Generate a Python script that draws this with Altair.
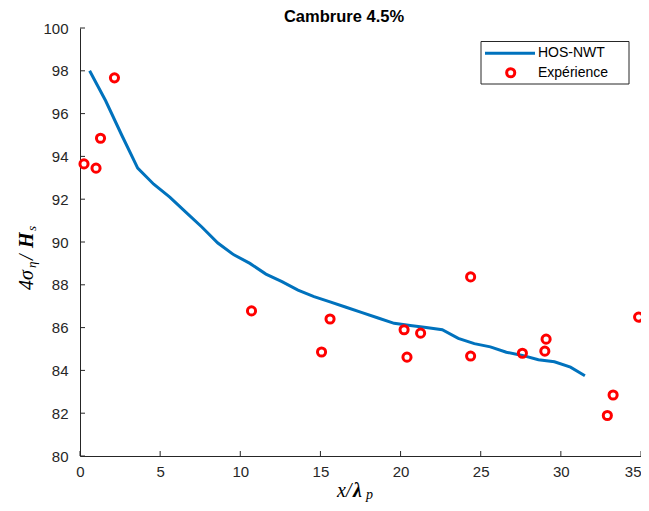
import altair as alt
import pandas as pd

# ---- data ----
hos_x = [0.6, 1.6, 2.6, 3.6, 4.6, 5.6, 6.6, 7.6, 8.6, 9.6, 10.6, 11.6, 12.6, 13.6, 14.6,
         15.6, 16.6, 17.6, 18.6, 19.6, 20.6, 21.6, 22.6, 23.6, 24.6, 25.6, 26.6, 27.6,
         28.6, 29.6, 30.6, 31.5]
hos_y = [98.0, 96.6, 95.0, 93.45, 92.7, 92.1, 91.4, 90.7, 89.95, 89.4, 89.0, 88.5, 88.15,
         87.75, 87.45, 87.2, 86.95, 86.7, 86.45, 86.2, 86.1, 86.0, 85.9, 85.5, 85.25, 85.1,
         84.85, 84.7, 84.5, 84.4, 84.15, 83.75]

exp_x = [0.25, 1.0, 1.28, 2.15, 10.7, 15.07, 15.6, 20.22, 20.4, 21.25, 24.37, 24.37,
         27.6, 29.08, 29.0, 32.9, 33.26, 34.85]
exp_y = [93.65, 93.45, 94.85, 97.67, 86.78, 84.86, 86.4, 85.9, 84.62, 85.74, 88.37, 84.67,
         84.8, 85.46, 84.9, 81.89, 82.85, 86.49]

x_ticks = [0, 5, 10, 15, 20, 25, 30, 35]
y_ticks = [80, 82, 84, 86, 88, 90, 92, 94, 96, 98, 100]

title_text = "Cambrure 4.5%"
legend_labels = ["HOS-NWT", "Expérience"]

# ---- styles ----
W, H = 561, 428
AX = "#262626"
BLUE = "#0072BD"
RED = "#FF0000"
SANS = "Liberation Sans"
SERIF = "Liberation Serif"

df_line = pd.DataFrame({"x": hos_x, "y": hos_y})
df_exp = pd.DataFrame({"x": exp_x, "y": exp_y})
df_xt = pd.DataFrame({"x": x_ticks})
df_yt = pd.DataFrame({"y": y_ticks})

xs = alt.Scale(domain=[0, 35], nice=False, zero=False)
ys = alt.Scale(domain=[80, 100], nice=False, zero=False)

x_axis = alt.Axis(values=x_ticks, ticks=False, grid=False, title=None, format="d",
                  labelFont=SANS, labelFontSize=15, labelColor=AX, domainColor=AX,
                  domainWidth=1, labelPadding=8, labelFlush=False,
                  labelAlign=alt.condition("datum.value == 35", alt.value("right"),
                                           alt.value("center")))
y_axis = alt.Axis(values=y_ticks, ticks=False, grid=False, title=None, format="d",
                  labelFont=SANS, labelFontSize=15, labelColor=AX, domainColor=AX,
                  domainWidth=1, labelPadding=12)

X = alt.X("x:Q", scale=xs, axis=x_axis)
Y = alt.Y("y:Q", scale=ys, axis=y_axis)

line = alt.Chart(df_line).mark_line(color=BLUE, strokeWidth=3).encode(x=X, y=Y)
pts = alt.Chart(df_exp).mark_point(shape="circle", filled=False, color=RED,
                                   strokeWidth=3, size=66, opacity=1).encode(x=X, y=Y)

xt = alt.Chart(df_xt).mark_rule(color=AX, strokeWidth=1).encode(
    x=X, y=alt.value(H), y2=alt.value(H - 5))
yt = alt.Chart(df_yt).mark_rule(color=AX, strokeWidth=1).encode(
    y=Y, x=alt.value(0), x2=alt.value(5))

one = pd.DataFrame({"k": [0]})


def txt(s, x, y, size, font=SANS, weight="normal", style="normal", align="left",
        baseline="middle", angle=0):
    return alt.Chart(one).mark_text(text=s, font=font, fontSize=size, fontWeight=weight,
                                    fontStyle=style, align=align, baseline=baseline,
                                    angle=angle, color="#000000").encode(
        x=alt.value(x), y=alt.value(y))


# title
title = txt(title_text, 264, -11, 16.5, weight="bold", align="center")

# legend box
leg_box = alt.Chart(one).mark_rect(fill="white", stroke=AX, strokeWidth=1).encode(
    x=alt.value(401), x2=alt.value(549), y=alt.value(13.5), y2=alt.value(56))
leg_line = alt.Chart(one).mark_rule(color=BLUE, strokeWidth=3).encode(
    x=alt.value(405), x2=alt.value(455), y=alt.value(25.3))
leg_pt = alt.Chart(one).mark_point(shape="circle", filled=False, color=RED, strokeWidth=3,
                                   size=66, opacity=1).encode(
    x=alt.value(430.7), y=alt.value(44.7))
leg_t1 = txt(legend_labels[0], 458, 25.3, 14)
leg_t2 = txt(legend_labels[1], 458, 44.7, 14)

# x label: x/λ_p
xl1 = txt("x/", 257, 469, 20, font=SERIF, style="italic", baseline="alphabetic")
xl2 = txt("λ", 273, 469, 20, font=SERIF, style="italic", weight="bold", baseline="alphabetic")
xl3 = txt("p", 286, 471, 14, font=SERIF, style="italic", baseline="alphabetic")

# y label: 4σ_η/H_s (rotated)
yl1 = txt("4σ", -53, 262, 20, font=SERIF, style="italic", angle=270)
yl2 = txt("η", -48, 240, 13, font=SERIF, style="italic", angle=270)
yl3 = txt("/", -53, 232, 20, font=SERIF, style="italic", angle=270)
yl4 = txt("H", -53, 220, 20, font=SERIF, style="italic", weight="bold", angle=270)
yl5 = txt("s", -48, 203, 13, font=SERIF, style="italic", angle=270)

chart = alt.layer(
    line, pts, xt, yt, title, leg_box, leg_line, leg_pt, leg_t1, leg_t2,
    xl1, xl2, xl3, yl1, yl2, yl3, yl4, yl5
).properties(
    width=W, height=H,
    autosize=alt.AutoSizeParams(type="none"),
    padding={"left": 72, "top": 20, "right": 0, "bottom": 47},
).configure_view(stroke=None)

chart.save("out.html", embed_options={"renderer": "svg", "actions": False})
